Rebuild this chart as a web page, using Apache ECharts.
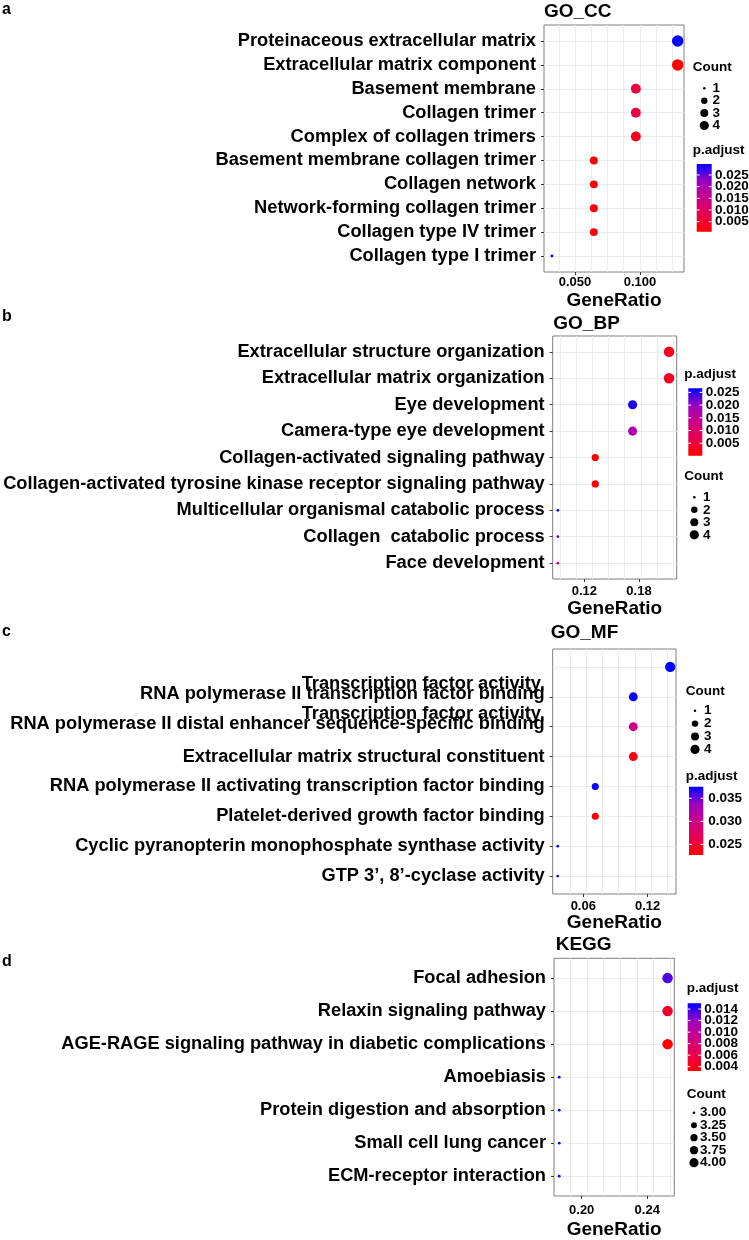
<!DOCTYPE html>
<html><head><meta charset="utf-8">
<script src="https://cdn.jsdelivr.net/npm/echarts@6/dist/echarts.min.js"></script>
<style>html,body{margin:0;padding:0;background:#fff}#c{width:749px;height:1240px}</style>
</head><body><div id="c"></div>
<script>
// ---------------- DATA ----------------
const ccTerms = ["Proteinaceous extracellular matrix","Extracellular matrix component","Basement membrane","Collagen trimer","Complex of collagen trimers","Basement membrane collagen trimer","Collagen network","Network-forming collagen trimer","Collagen type IV trimer","Collagen type I trimer"];
const ccGeneRatio = [0.129,0.129,0.0968,0.0968,0.0968,0.0645,0.0645,0.0645,0.0645,0.0323];
const ccCount = [4,4,3,3,3,2,2,2,2,1];
const ccPadj = [0.0297,0.0007,0.0068,0.0070,0.0040,0.0012,0.0012,0.0012,0.0012,0.0297];
const ccXTicks = [0.05,0.10];
const ccPBreaks = [0.005,0.010,0.015,0.020,0.025];
const ccCountBreaks = [1,2,3,4];

const bpTerms = ["Extracellular structure organization","Extracellular matrix organization","Eye development","Camera-type eye development","Collagen-activated signaling pathway","Collagen-activated tyrosine kinase receptor signaling pathway","Multicellular organismal catabolic process","Collagen  catabolic process","Face development"];
const bpGeneRatio = [0.213,0.213,0.173,0.173,0.132,0.132,0.091,0.091,0.091];
const bpCount = [4,4,3,3,2,2,1,1,1];
const bpPadj = [0.0027,0.0030,0.0255,0.0173,0.0001,0.0004,0.0266,0.0220,0.0140];
const bpXTicks = [0.12,0.18];
const bpPBreaks = [0.005,0.010,0.015,0.020,0.025];
const bpCountBreaks = [1,2,3,4];

const mfTerms = ["Transcription coactivator activity","Transcription factor activity,\nRNA polymerase II transcription factor binding","Transcription factor activity,\nRNA polymerase II distal enhancer sequence-specific binding","Extracellular matrix structural constituent","RNA polymerase II activating transcription factor binding","Platelet-derived growth factor binding","Cyclic pyranopterin monophosphate synthase activity","GTP 3\u2019, 8\u2019-cyclase activity"];
const mfGeneRatio = [0.141,0.1066,0.1066,0.1066,0.0712,0.0712,0.0362,0.0362];
const mfCount = [4,3,3,3,2,2,1,1];
const mfPadj = [0.0375,0.0372,0.0301,0.0235,0.0373,0.0227,0.0375,0.0375];
const mfXTicks = [0.06,0.12];
const mfPBreaks = [0.025,0.030,0.035];
const mfCountBreaks = [1,2,3,4];

const keggTerms = ["Focal adhesion","Relaxin signaling pathway","AGE-RAGE signaling pathway in diabetic complications","Amoebiasis","Protein digestion and absorption","Small cell lung cancer","ECM-receptor interaction"];
const keggGeneRatio = [0.2524,0.2524,0.2524,0.1863,0.1863,0.1863,0.1863];
const keggCount = [4,4,4,3,3,3,3];
const keggPadj = [0.0135,0.0050,0.00325,0.0148,0.0150,0.0149,0.0148];
const keggXTicks = [0.20,0.24];
const keggPBreaks = [0.004,0.006,0.008,0.010,0.012,0.014];
const keggCountBreaks = [3.00,3.25,3.50,3.75,4.00];

// ---------------- LAYOUT ----------------
const FONT = '"Liberation Sans", Arial, Helvetica, sans-serif';
const COLORS = ['#FF0000','#E8004F','#CA0089','#9A00C3','#0000FF'];
const layouts = [
 {letter:'a', letterY:10, title:'GO_CC', titleX:544, titleY:12, pad:0.67, fs:18.25,
  grid:{left:544, top:25, width:140, height:247}, xMin:0.02615, xMax:0.13385,
  gridStart:0.0375, gridStep:0.0125, xDigits:3, labelMargin:4, nameGap:19, maxDiam:11.5,
  cnt:{titleX:692.7, titleY:67.7, y0:88.3, dy:12.4, dotX:704.3, labelX:712.5, digits:0},
  pa:{titleX:692.7, titleY:150, barX:696.7, barY:164, barW:15, barH:67.7, labelX:715, digits:3}},
 {letter:'b', letterY:317, title:'GO_BP', titleX:553.3, titleY:323.7, pad:0.6, fs:18.25,
  grid:{left:552.7, top:336, width:124, height:243}, xMin:0.0853, xMax:0.2214,
  gridStart:0.0933, gridStep:0.01775, xDigits:2, labelMargin:6, nameGap:20, maxDiam:10.5,
  cnt:{titleX:684.3, titleY:476, y0:497.3, dy:12.5, dotX:694.3, labelX:703, digits:0},
  pa:{titleX:684.3, titleY:374, barX:688.3, barY:388.3, barW:14, barH:67.4, labelX:705.7, digits:3}},
 {letter:'c', letterY:632, title:'GO_MF', titleX:550.7, titleY:632.7, pad:0.6, fs:18.25,
  grid:{left:552.7, top:649, width:123.3, height:245}, xMin:0.0315, xMax:0.1464,
  gridStart:0.0476, gridStep:0.0151, xDigits:2, labelMargin:5.5, nameGap:18, maxDiam:10.3,
  cnt:{titleX:685.7, titleY:691.7, y0:710.7, dy:12.9, dotX:695, labelX:704, digits:0},
  pa:{titleX:685.7, titleY:776, barX:689, barY:786.7, barW:14.3, barH:68.3, labelX:708.3, digits:3}},
 {letter:'d', letterY:962, title:'KEGG', titleX:555.7, titleY:944.7, pad:0.6, fs:18.25,
  grid:{left:554, top:958.3, width:120.3, height:243.4}, xMin:0.1831, xMax:0.2565,
  gridStart:0.1932, gridStep:0.0101, xDigits:2, labelMargin:8, nameGap:24, maxDiam:10.5,
  cnt:{titleX:686.7, titleY:1094.3, y0:1112.7, dy:12.5, dotX:694, labelX:700, digits:2},
  pa:{titleX:686.7, titleY:988.3, barX:687.7, barY:1003.3, barW:13.3, barH:67.7, labelX:704.3, digits:3}}
];

const panels = [
 {terms:ccTerms, ratio:ccGeneRatio, count:ccCount, padj:ccPadj, xTicks:ccXTicks, pBreaks:ccPBreaks, countBreaks:ccCountBreaks, L:layouts[0]},
 {terms:bpTerms, ratio:bpGeneRatio, count:bpCount, padj:bpPadj, xTicks:bpXTicks, pBreaks:bpPBreaks, countBreaks:bpCountBreaks, L:layouts[1]},
 {terms:mfTerms, ratio:mfGeneRatio, count:mfCount, padj:mfPadj, xTicks:mfXTicks, pBreaks:mfPBreaks, countBreaks:mfCountBreaks, L:layouts[2]},
 {terms:keggTerms, ratio:keggGeneRatio, count:keggCount, padj:keggPadj, xTicks:keggXTicks, pBreaks:keggPBreaks, countBreaks:keggCountBreaks, L:layouts[3]}
];

function sizeOf(c, cmin, cmax, maxD){
  const t = cmax > cmin ? (c - cmin) / (cmax - cmin) : 1;
  return 1.2 + (maxD - 1.2) * (1 + 5 * Math.sqrt(Math.max(0, t))) / 6;
}
function richFor(fs){
  return {
    l1:{fontSize:fs, fontWeight:'bold', fontFamily:FONT, color:'#000', lineHeight:10},
    l2:{fontSize:fs, fontWeight:'bold', fontFamily:FONT, color:'#000', lineHeight:10},
    sp:{fontSize:fs, lineHeight:16}
  };
}
function fmtTerm(t){
  if (t.indexOf('\n') >= 0){
    const p = t.split('\n');
    return '{l1|' + p[0] + '}\n{l2|' + p[1] + '}\n{sp| }';
  }
  return t;
}
function txt(x, y, text, size, align, weight){
  return {type:'text', x:x, y:y, silent:true, style:{text:text, fontSize:size, fontWeight:weight||'bold', fontFamily:FONT, fill:'#000', textAlign:align||'left', textVerticalAlign:'middle'}};
}

const grids=[], xAxes=[], yAxes=[], series=[], visualMaps=[], graphics=[];
panels.forEach((p,i)=>{
  const L = p.L;
  const cmin = Math.min.apply(null, p.count), cmax = Math.max.apply(null, p.count);
  const pmin = Math.min.apply(null, p.padj), pmax = Math.max.apply(null, p.padj);
  grids.push({left:L.grid.left, top:L.grid.top, width:L.grid.width, height:L.grid.height, show:true, borderColor:'#7F7F7F', borderWidth:1, backgroundColor:'#fff'});
  xAxes.push({type:'value', gridIndex:i, min:L.xMin, max:L.xMax, position:'bottom',
    name:'GeneRatio', nameLocation:'middle', nameGap:L.nameGap,
    nameTextStyle:{fontSize:19, fontWeight:'bold', color:'#000', fontFamily:FONT},
    axisLine:{show:false, onZero:false},
    axisTick:{show:true, length:3, lineStyle:{color:'#333'}, customValues:p.xTicks},
    axisLabel:{customValues:p.xTicks, formatter:v=>Number(v).toFixed(L.xDigits), fontSize:13, fontWeight:'bold', color:'#000', margin:L.labelMargin, fontFamily:FONT},
    splitLine:{show:false}});
  const gl=[]; for(let v=L.gridStart; v<=L.xMax+1e-9; v+=L.gridStep) gl.push(+v.toFixed(6));
  xAxes.push({type:'value', gridIndex:i, min:L.xMin, max:L.xMax, position:'top',
    axisLine:{show:false, onZero:false}, axisTick:{show:false, customValues:gl}, axisLabel:{show:false},
    splitLine:{show:true, lineStyle:{color:'#EBEBEB', width:1}}});
  const n = p.terms.length;
  const idx = p.terms.map((_,k)=>k);
  yAxes.push({type:'value', gridIndex:i, inverse:true, min:-L.pad, max:n-1+L.pad,
    axisLine:{show:false, onZero:false},
    axisTick:{show:true, length:3, lineStyle:{color:'#333'}, customValues:idx},
    axisLabel:{customValues:idx, formatter:v=>fmtTerm(p.terms[Math.round(v)]), fontSize:L.fs, fontWeight:'bold', color:'#000', margin:8, fontFamily:FONT, rich:richFor(L.fs)},
    splitLine:{show:true, lineStyle:{color:'#EBEBEB', width:1}}});
  series.push({type:'scatter', xAxisIndex:2*i, yAxisIndex:i, z:5,
    data:p.terms.map((t,k)=>[p.ratio[k], k, p.count[k], p.padj[k]]),
    symbolSize:d=>sizeOf(d[2], cmin, cmax, L.maxDiam),
    itemStyle:{opacity:1}, emphasis:{disabled:true}});
  visualMaps.push({type:'continuous', show:false, seriesIndex:i, dimension:3, min:pmin, max:pmax, inRange:{color:COLORS}});

  graphics.push(txt(2, L.letterY, L.letter, 16, 'left'));
  graphics.push(txt(L.titleX, L.titleY, L.title, 19, 'left'));

  const C = L.cnt;
  graphics.push(txt(C.titleX, C.titleY, 'Count', 13.5, 'left'));
  p.countBreaks.forEach((c,k)=>{
    const y = C.y0 + k*C.dy;
    graphics.push({type:'circle', silent:true, shape:{cx:C.dotX, cy:y, r:sizeOf(c, p.countBreaks[0], p.countBreaks[p.countBreaks.length-1], 9.2)/2}, style:{fill:'#000'}});
    graphics.push(txt(C.labelX, y, c.toFixed(C.digits), 13.5, 'left'));
  });

  const P = L.pa;
  graphics.push(txt(P.titleX, P.titleY, 'p.adjust', 13.5, 'left'));
  graphics.push({type:'rect', silent:true, shape:{x:P.barX, y:P.barY, width:P.barW, height:P.barH},
    style:{fill:new echarts.graphic.LinearGradient(0,0,0,1,[
      {offset:0,color:COLORS[4]},{offset:0.25,color:COLORS[3]},{offset:0.5,color:COLORS[2]},{offset:0.75,color:COLORS[1]},{offset:1,color:COLORS[0]}])}});
  p.pBreaks.forEach(v=>{
    const y = P.barY + (pmax - v)/(pmax - pmin)*P.barH;
    const tl = P.barW/5;
    graphics.push({type:'line', silent:true, shape:{x1:P.barX, y1:y, x2:P.barX+tl, y2:y}, style:{stroke:'#fff', lineWidth:1}});
    graphics.push({type:'line', silent:true, shape:{x1:P.barX+P.barW-tl, y1:y, x2:P.barX+P.barW, y2:y}, style:{stroke:'#fff', lineWidth:1}});
    graphics.push(txt(P.labelX, y, v.toFixed(P.digits), 13.5, 'left'));
  });
});

const chart = echarts.init(document.getElementById('c'));
chart.setOption({
  animation:false,
  backgroundColor:'#fff',
  textStyle:{fontFamily:FONT},
  grid:grids, xAxis:xAxes, yAxis:yAxes, series:series, visualMap:visualMaps,
  graphic:{elements:graphics}
});
</script></body></html>
